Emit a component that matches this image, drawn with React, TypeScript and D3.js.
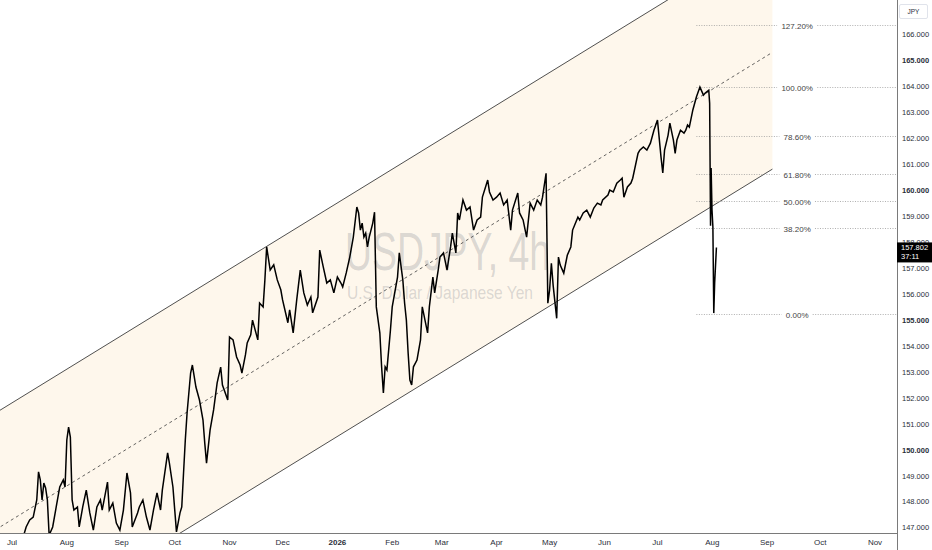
import * as d3 from 'd3';

// USDJPY 4h, closes every 1-2 days
const dates = [
  '2025-07-06', '2025-07-09', '2025-07-11', '2025-07-13', '2025-07-15', '2025-07-16', '2025-07-17', '2025-07-18',
  '2025-07-19', '2025-07-20', '2025-07-21', '2025-07-22', '2025-07-24', '2025-07-26', '2025-07-28', '2025-07-30',
  '2025-07-31', '2025-08-01', '2025-08-02', '2025-08-03', '2025-08-04', '2025-08-05', '2025-08-07', '2025-08-08',
  '2025-08-10', '2025-08-12', '2025-08-14', '2025-08-16', '2025-08-18', '2025-08-20', '2025-08-21', '2025-08-24',
  '2025-08-25', '2025-08-27', '2025-08-29', '2025-08-31', '2025-09-02', '2025-09-04', '2025-09-06', '2025-09-07',
  '2025-09-10', '2025-09-11', '2025-09-13', '2025-09-15', '2025-09-17', '2025-09-19', '2025-09-21', '2025-09-23',
  '2025-09-24', '2025-09-27', '2025-09-28', '2025-09-30', '2025-10-02', '2025-10-04', '2025-10-05', '2025-10-06',
  '2025-10-07', '2025-10-08', '2025-10-10', '2025-10-11', '2025-10-13', '2025-10-15', '2025-10-17', '2025-10-18',
  '2025-10-19', '2025-10-21', '2025-10-23', '2025-10-25', '2025-10-27', '2025-10-28', '2025-10-31', '2025-11-01',
  '2025-11-03', '2025-11-05', '2025-11-07', '2025-11-08', '2025-11-10', '2025-11-11', '2025-11-13', '2025-11-14',
  '2025-11-17', '2025-11-18', '2025-11-20', '2025-11-21', '2025-11-22', '2025-11-24', '2025-11-26', '2025-11-28',
  '2025-11-30', '2025-12-01', '2025-12-04', '2025-12-05', '2025-12-07', '2025-12-09', '2025-12-11', '2025-12-13',
  '2025-12-15', '2025-12-17', '2025-12-18', '2025-12-21', '2025-12-22', '2025-12-24', '2025-12-26', '2025-12-28',
  '2025-12-30', '2026-01-01', '2026-01-03', '2026-01-04', '2026-01-06', '2026-01-08', '2026-01-10', '2026-01-12',
  '2026-01-13', '2026-01-14', '2026-01-15', '2026-01-16', '2026-01-17', '2026-01-18', '2026-01-19', '2026-01-21',
  '2026-01-22', '2026-01-23', '2026-01-25', '2026-01-26', '2026-01-27', '2026-01-28', '2026-01-29', '2026-01-31',
  '2026-02-01', '2026-02-04', '2026-02-05', '2026-02-07', '2026-02-08', '2026-02-09', '2026-02-10', '2026-02-11',
  '2026-02-12', '2026-02-13', '2026-02-15', '2026-02-17', '2026-02-18', '2026-02-21', '2026-02-22', '2026-02-24',
  '2026-02-25', '2026-02-27', '2026-02-28', '2026-03-02', '2026-03-04', '2026-03-06', '2026-03-07', '2026-03-09',
  '2026-03-10', '2026-03-11', '2026-03-13', '2026-03-15', '2026-03-17', '2026-03-19', '2026-03-21', '2026-03-23',
  '2026-03-24', '2026-03-27', '2026-03-28', '2026-03-30', '2026-04-01', '2026-04-03', '2026-04-05', '2026-04-07',
  '2026-04-09', '2026-04-10', '2026-04-13', '2026-04-14', '2026-04-16', '2026-04-18', '2026-04-20', '2026-04-22',
  '2026-04-24', '2026-04-26', '2026-04-27', '2026-04-29', '2026-04-30', '2026-05-01', '2026-05-02', '2026-05-03',
  '2026-05-05', '2026-05-06', '2026-05-07', '2026-05-09', '2026-05-11', '2026-05-13', '2026-05-14', '2026-05-17',
  '2026-05-18', '2026-05-20', '2026-05-22', '2026-05-24', '2026-05-26', '2026-05-28', '2026-05-30', '2026-05-31',
  '2026-06-03', '2026-06-04', '2026-06-06', '2026-06-08', '2026-06-10', '2026-06-11', '2026-06-12', '2026-06-14',
  '2026-06-16', '2026-06-17', '2026-06-20', '2026-06-21', '2026-06-23', '2026-06-25', '2026-06-27', '2026-06-29',
  '2026-07-01', '2026-07-03', '2026-07-04', '2026-07-05', '2026-07-07', '2026-07-08', '2026-07-10', '2026-07-11',
  '2026-07-12', '2026-07-14', '2026-07-16', '2026-07-17', '2026-07-18', '2026-07-19', '2026-07-21', '2026-07-23',
  '2026-07-25', '2026-07-27', '2026-07-28', '2026-07-30', '2026-07-30T12:00Z', '2026-07-31T00:00Z',
  '2026-07-31T08:00Z', '2026-07-31T20:00Z', '2026-08-01T08:00Z', '2026-08-01T20:00Z', '2026-08-02T08:00Z',
  '2026-08-02T20:00Z', '2026-08-03T08:00Z',
];

const closes = [
  146.33, 147.03, 147.3, 147.41, 148.07, 149.15, 148.84, 148.07,
  148.72, 148.53, 148.07, 146.71, 147.03, 147.8, 148.57, 148.84,
  148.57, 150.38, 150.88, 150.49, 148.07, 147.68, 147.8, 147.03,
  147.8, 148.45, 147.57, 146.91, 147.8, 148.07, 147.68, 148.76,
  147.68, 147.95, 147.18, 146.91, 147.68, 149.11, 148.34, 147.03,
  147.57, 147.8, 148.07, 147.41, 146.91, 147.68, 148.34, 147.68,
  148.45, 149.88, 149.49, 148.57, 146.84, 147.57, 147.8, 149.11,
  150.38, 151.42, 152.96, 153.27, 152.42, 151.92, 151.15, 150.26,
  149.49, 150.76, 151.54, 152.58, 153.19, 152.5, 151.92, 154.35,
  154.24, 153.58, 153.27, 152.96, 153.66, 154.12, 154.43, 155.0,
  154.24, 155.66, 155.51, 156.55, 157.82, 156.93, 157.13, 156.55,
  156.17, 155.78, 154.9, 155.4, 154.51, 155.78, 156.93, 156.05,
  155.58, 155.89, 155.28, 155.89, 157.7, 157.05, 156.43, 156.55,
  156.05, 156.66, 156.43, 156.28, 156.82, 157.43, 158.2, 159.36,
  159.13, 158.47, 158.74, 158.2, 158.35, 157.82, 158.2, 158.74,
  159.16, 155.51, 154.51, 153.2, 152.19, 153.2, 153.08, 154.62,
  155.51, 156.66, 157.59, 156.55, 155.66, 155.0, 153.73, 152.69,
  152.5, 153.2, 153.46, 154.24, 155.51, 154.51, 155.51, 156.66,
  156.05, 156.93, 157.43, 157.59, 156.93, 157.82, 158.35, 157.59,
  159.13, 158.86, 159.63, 159.24, 159.36, 158.47, 158.86, 158.97,
  159.74, 160.4, 159.94, 159.63, 159.74, 159.9, 159.44, 159.63,
  158.47, 159.24, 159.9, 159.13, 158.86, 158.2, 159.51, 159.24,
  159.63, 159.44, 159.74, 160.66, 155.65, 156.16, 157.19, 156.34,
  155.07, 157.43, 157.12, 156.81, 157.5, 157.82, 158.47, 158.97,
  158.86, 159.13, 159.24, 158.97, 159.32, 159.51, 159.44, 159.63,
  159.82, 160.01, 159.94, 160.28, 160.4, 160.47, 159.74, 160.13,
  160.28, 160.47, 161.43, 161.55, 161.67, 161.55, 161.82, 162.32,
  162.71, 161.28, 160.67, 161.55, 162.13, 162.59, 161.94, 161.43,
  161.94, 162.32, 162.21, 162.32, 162.52, 162.44, 163.1, 163.6,
  163.98, 163.67, 163.75, 163.86, 163.36, 158.64,
  160.86, 159.24, 158.59, 155.27, 156.43,
  157.12, 157.8,
];

const priceTicks = [147, 148, 149, 150, 151, 152, 153, 154, 155, 156, 157, 158, 159, 160, 161, 162, 163, 164, 165, 166];
const boldTicks = [150, 155, 160, 165];

// parallel channel (lower line anchors) and its width in price
const channelStart = { date: '2025-10-04', price: 146.79 };
const channelEnd = { date: '2026-09-04', price: 160.82 };
const channelWidth = 9.0;

// fib retracement
const fibLow = 155.22;
const fibHigh = 163.98;
const fibStartDate = '2026-07-23';
const fibLabelDate = '2026-09-18';
const fibLevels = [0, 0.382, 0.5, 0.618, 0.786, 1, 1.272];
const fibLabels = ['0.00%', '38.20%', '50.00%', '61.80%', '78.60%', '100.00%', '127.20%'];

const lastPrice = '157.802';
const countdown = '37:11';

const W = 932;
const H = 550;
const plotRight = 897;
const plotBottom = 533;
const font = '"Liberation Sans", Arial, sans-serif';

export default function App() {
  const x = d3
    .scaleUtc()
    .domain([new Date('2025-07-01'), new Date('2026-11-01')])
    .range([12, 875]);
  const y = d3.scaleLinear().domain([147, 166]).range([527.7, 34.7]);

  const series = dates.map((d, i) => ({ t: new Date(d), v: closes[i] }));
  const line = d3
    .line<{ t: Date; v: number }>()
    .x((d) => x(d.t))
    .y((d) => y(d.v));

  // channel lines, extended to the left edge
  const chan = d3
    .scaleUtc()
    .domain([new Date(channelStart.date), new Date(channelEnd.date)])
    .range([channelStart.price, channelEnd.price]);
  const leftDate = x.invert(-30);
  const endDate = new Date(channelEnd.date);
  const pt = (t: Date, off: number): [number, number] => [x(t), y(chan(t) + off)];
  const lower = [pt(leftDate, 0), pt(endDate, 0)];
  const upper = [pt(leftDate, channelWidth), pt(endDate, channelWidth)];
  const mid = [pt(leftDate, channelWidth / 2), pt(endDate, channelWidth / 2)];
  const band = d3.line()([upper[0], upper[1], lower[1], lower[0]]) + 'Z';

  const months = x.ticks(d3.utcMonth.every(1)!).filter((t) => x(t) > 0 && x(t) < plotRight);
  const fmtMonth = d3.utcFormat('%b');
  const fmtYear = d3.utcFormat('%Y');

  const fibX0 = x(new Date(fibStartDate));
  const fibLX = x(new Date(fibLabelDate));

  const lastY = y(+lastPrice);

  return (
    <svg
      width={W}
      height={H}
      style={{ position: 'absolute', left: 0, top: 0, background: '#fff' }}
      fontFamily={font}
    >
      <defs>
        <clipPath id="plot">
          <rect x={0} y={0} width={plotRight} height={plotBottom} />
        </clipPath>
      </defs>

      <g clipPath="url(#plot)">
        {/* channel background */}
        <path d={band} fill="#fef7ec" />

        {/* watermark */}
        <text
          x={345}
          y={270}
          fontSize={54}
          textLength={205}
          lengthAdjust="spacingAndGlyphs"
          fill="rgba(120,123,134,0.27)"
        >
          USDJPY, 4h
        </text>
        <text
          x={347}
          y={299}
          fontSize={19}
          textLength={186}
          lengthAdjust="spacingAndGlyphs"
          fill="rgba(120,123,134,0.27)"
        >
          U.S. Dollar / Japanese Yen
        </text>

        {/* channel lines */}
        <path d={d3.line()(upper)!} stroke="#3c3c3c" strokeWidth={0.9} fill="none" />
        <path d={d3.line()(lower)!} stroke="#3c3c3c" strokeWidth={0.9} fill="none" />
        <path d={d3.line()(mid)!} stroke="#3c3c3c" strokeWidth={0.8} strokeDasharray="3,3" fill="none" />

        {/* fib levels */}
        {fibLevels.map((lv, i) => {
          const yy = Math.round(y(fibLow + (fibHigh - fibLow) * lv)) + 0.5;
          const half = fibLabels[i].length * 2.3 + 4;
          return (
            <g key={lv}>
              <line x1={fibX0} x2={fibLX - half} y1={yy} y2={yy} stroke="#9a9a9a" strokeWidth={0.8} strokeDasharray="1,1.5" />
              <line x1={fibLX + half} x2={plotRight} y1={yy} y2={yy} stroke="#9a9a9a" strokeWidth={0.8} strokeDasharray="1,1.5" />
              <text x={fibLX} y={yy + 3} fontSize={8} fill="#444" textAnchor="middle">
                {fibLabels[i]}
              </text>
            </g>
          );
        })}

        {/* price */}
        <path d={line(series)!} fill="none" stroke="#000" strokeWidth={1.5} strokeLinejoin="miter" />
      </g>

      {/* axes borders */}
      <line x1={0} x2={plotRight} y1={plotBottom + 0.5} y2={plotBottom + 0.5} stroke="#7a7a7a" strokeWidth={1} />
      <line x1={plotRight + 0.5} x2={plotRight + 0.5} y1={0} y2={H} stroke="#7a7a7a" strokeWidth={1} />

      {/* time axis */}
      {months.map((t) => {
        const isYear = t.getUTCMonth() === 0;
        return (
          <text
            key={+t}
            x={x(t)}
            y={545}
            fontSize={8}
            textAnchor="middle"
            fill="#2a2e39"
            fontWeight={isYear ? 'bold' : 'normal'}
          >
            {isYear ? fmtYear(t) : fmtMonth(t)}
          </text>
        );
      })}

      {/* price axis */}
      {priceTicks.map((p) => (
        <text
          key={p}
          x={902}
          y={y(p) + 2.7}
          fontSize={7.5}
          fill="#2a2e39"
          fontWeight={boldTicks.includes(p) ? 'bold' : 'normal'}
        >
          {p.toFixed(3)}
        </text>
      ))}

      {/* currency box */}
      <rect x={899.5} y={4.5} width={28} height={14} fill="#fff" stroke="#e0e3eb" rx={1.5} />
      <text x={913.5} y={14} fontSize={6.5} textAnchor="middle" fill="#2a2e39">
        JPY
      </text>

      {/* last price label */}
      <rect x={plotRight} y={lastY - 5} width={W - plotRight} height={20} fill="#000" />
      <text x={901} y={lastY + 2.5} fontSize={7.5} fill="#fff">
        {lastPrice}
      </text>
      <text x={901} y={lastY + 11.5} fontSize={7.5} fill="#fff">
        {countdown}
      </text>
    </svg>
  );
}
